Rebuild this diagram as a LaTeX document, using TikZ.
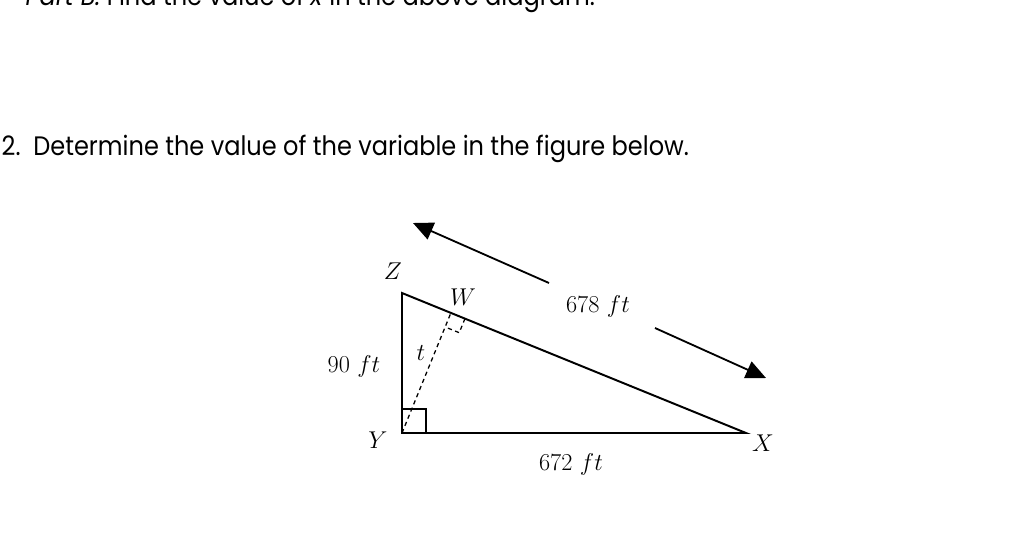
\documentclass[tikz,border=0pt]{standalone}
\usepackage{fontspec}
\newfontfamily\headfont{Poppins}
\usetikzlibrary{arrows.meta,positioning,calc}

\begin{document}
\begin{tikzpicture}[x=0.025cm, y=-0.025cm,
    every node/.style={inner sep=1pt},
    side/.style={line width=1.4pt},
    lenarrow/.style={line width=1.3pt, -{Triangle[length=0.5cm,width=0.45cm]}},
    lbl/.style={font=\fontsize{17.5}{20}\selectfont},
    head/.style={font=\headfont\fontsize{19}{22}\selectfont, anchor=base west}]
    \useasboundingbox (0,0) rectangle (1024,555);
    % Question text
    \node[head] (partb) at (24,5) {\scalebox{0.9}[1]{\textit{Part B.} Find the value of \textit{x} in the above diagram.}};
    \node[head] (qtwo) at (0,155) {\scalebox{0.9}[1]{2.\ \ Determine the value of the variable in the figure below.}};

    % Vertices
    \coordinate (Y) at (402,433);
    \coordinate (Z) at (402,293);
    \coordinate (X) at (746,433);
    \coordinate (W) at ($(Z)!(Y)!(X)$);

    % Triangle
    \draw[side] (Z) -- (Y) -- (X) -- cycle;
    % Right angle at Y
    \draw[line width=1.2pt] (402,409) -- (426,409) -- (426,433);
    % Altitude
    \draw[dash pattern=on 3pt off 2.5pt, line width=0.9pt] (Y) -- (W);
    \coordinate (wa) at ($(W)!0.38cm!(X)$);
    \coordinate (wb) at ($(W)!0.38cm!(Y)$);
    \coordinate (wc) at ($(wa)+(wb)-(W)$);
    \draw[dash pattern=on 3pt off 2.5pt, line width=0.9pt] (wa) -- (wc) -- (wb);

    % Labels
    \node[lbl] (zlab) at (393,271) {$Z$};
    \node[lbl] (wlab) at (463,297) {$W$};
    \node[lbl] (ylab) at (378,440) {$Y$};
    \node[lbl] (xlab) at (763,443) {$X$};
    \node[lbl] (tlab) at (421,353) {$t$};
    \node[lbl] (zy) at (354,366) {$90\ ft$};
    \node[lbl] (zx) at (598,306) {$678\ ft$};
    \node[lbl] (yx) at (571,464) {$672\ ft$};

    % Length arrows
    \coordinate (upstart) at (549,283);
    \coordinate (uptip) at (413,223);
    \coordinate (downstart) at (655,328);
    \coordinate (downtip) at (766,378);
    \draw[lenarrow] (upstart) -- (uptip);
    \draw[lenarrow] (downstart) -- (downtip);
\end{tikzpicture}
\end{document}
